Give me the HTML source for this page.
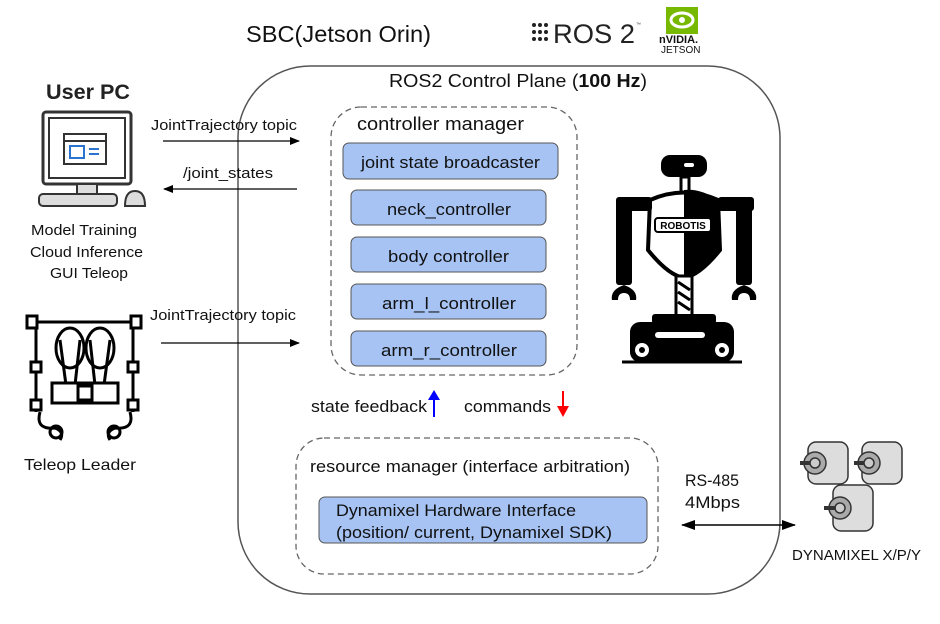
<!DOCTYPE html>
<html><head><meta charset="utf-8"><style>
html,body{margin:0;padding:0;background:#fff;}
svg{display:block;font-family:"Liberation Sans",sans-serif;}
</style></head><body>
<svg width="940" height="624" viewBox="0 0 940 624" xmlns="http://www.w3.org/2000/svg">
<defs>
<marker id="ah" markerWidth="10" markerHeight="8" refX="9" refY="4" orient="auto" markerUnits="userSpaceOnUse"><path d="M0,0 L10,4 L0,8 Z" fill="#000"/></marker>
<marker id="as" markerWidth="14" markerHeight="10" refX="13" refY="5" orient="auto-start-reverse" markerUnits="userSpaceOnUse"><path d="M0,0 L14,5 L0,10 Z" fill="#000"/></marker>
</defs>
<text x="246" y="42" font-size="23" fill="#111" textLength="185" lengthAdjust="spacingAndGlyphs">SBC(Jetson Orin)</text>
<g fill="#222">
<circle cx="534" cy="25" r="2"/><circle cx="540" cy="25" r="2"/><circle cx="546" cy="25" r="2"/>
<circle cx="534" cy="32" r="2"/><circle cx="540" cy="32" r="2"/><circle cx="546" cy="32" r="2"/>
<circle cx="534" cy="39" r="2"/><circle cx="540" cy="39" r="2"/><circle cx="546" cy="39" r="2"/>
</g>
<text x="553" y="43" font-size="27" fill="#222" textLength="82" lengthAdjust="spacingAndGlyphs">ROS 2</text>
<text x="636" y="26" font-size="5" fill="#444">™</text>
<rect x="666" y="7" width="32" height="27" fill="#76b900"/>
<ellipse cx="682" cy="20" rx="11" ry="7" fill="none" stroke="#fff" stroke-width="3"/>
<circle cx="682" cy="20" r="3" fill="#fff"/>
<text x="659" y="43" font-size="11" font-weight="bold" fill="#111">nVIDIA.</text>
<text x="661" y="53" font-size="10" fill="#111">JETSON</text>

<rect x="238" y="66" width="542" height="528" rx="72" fill="none" stroke="#555" stroke-width="1.5"/>
<text x="389" y="87" font-size="18" fill="#111" textLength="258" lengthAdjust="spacingAndGlyphs">ROS2 Control Plane (<tspan font-weight="bold">100 Hz</tspan>)</text>

<rect x="331" y="107" width="246" height="268" rx="30" fill="none" stroke="#666" stroke-width="1.3" stroke-dasharray="6,4"/>
<text x="357" y="130" font-size="18" fill="#111" textLength="167" lengthAdjust="spacingAndGlyphs">controller manager</text>
<g fill="#a6c3f3" stroke="#555" stroke-width="1">
<rect x="343" y="143" width="215" height="36" rx="6"/>
<rect x="351" y="190" width="195" height="35" rx="6"/>
<rect x="351" y="237" width="195" height="35" rx="6"/>
<rect x="351" y="284" width="195" height="35" rx="6"/>
<rect x="351" y="331" width="195" height="35" rx="6"/>
</g>
<g font-size="17" fill="#111">
<text x="361" y="168" textLength="179" lengthAdjust="spacingAndGlyphs">joint state broadcaster</text>
<text x="387" y="215" textLength="124" lengthAdjust="spacingAndGlyphs">neck_controller</text>
<text x="388" y="262" textLength="121" lengthAdjust="spacingAndGlyphs">body controller</text>
<text x="382" y="309" textLength="134" lengthAdjust="spacingAndGlyphs">arm_l_controller</text>
<text x="381" y="356" textLength="136" lengthAdjust="spacingAndGlyphs">arm_r_controller</text>
</g>

<text x="311" y="412" font-size="17" fill="#111" textLength="116" lengthAdjust="spacingAndGlyphs">state feedback</text>
<line x1="434" y1="417" x2="434" y2="398" stroke="#00f" stroke-width="2"/>
<path d="M428,400 L434,390 L440,400 Z" fill="#00f"/>
<text x="464" y="412" font-size="17" fill="#111" textLength="87" lengthAdjust="spacingAndGlyphs">commands</text>
<line x1="563" y1="391" x2="563" y2="408" stroke="#f00" stroke-width="2"/>
<path d="M557,406 L563,417 L569,406 Z" fill="#f00"/>

<rect x="296" y="438" width="362" height="136" rx="28" fill="none" stroke="#666" stroke-width="1.3" stroke-dasharray="6,4"/>
<text x="310" y="472" font-size="17" fill="#111" textLength="320" lengthAdjust="spacingAndGlyphs">resource manager (interface arbitration)</text>
<rect x="319" y="497" width="328" height="46" rx="6" fill="#a6c3f3" stroke="#555"/>
<text x="336" y="516" font-size="17" fill="#111" textLength="240" lengthAdjust="spacingAndGlyphs">Dynamixel Hardware Interface</text>
<text x="336" y="538" font-size="17" fill="#111" textLength="276" lengthAdjust="spacingAndGlyphs">(position/ current, Dynamixel SDK)</text>

<text x="685" y="486" font-size="17" fill="#111" textLength="54" lengthAdjust="spacingAndGlyphs">RS-485</text>
<text x="685" y="508" font-size="17" fill="#111" textLength="55" lengthAdjust="spacingAndGlyphs">4Mbps</text>
<line x1="682" y1="525" x2="795" y2="525" stroke="#000" stroke-width="1.5" marker-start="url(#as)" marker-end="url(#as)"/>

<text x="151" y="130" font-size="15" fill="#111" textLength="146" lengthAdjust="spacingAndGlyphs">JointTrajectory topic</text>
<line x1="163" y1="141" x2="299" y2="141" stroke="#000" stroke-width="1.2" marker-end="url(#ah)"/>
<text x="183" y="178" font-size="15" fill="#111" textLength="90" lengthAdjust="spacingAndGlyphs">/joint_states</text>
<line x1="297" y1="189" x2="164" y2="189" stroke="#000" stroke-width="1.2" marker-end="url(#ah)"/>
<text x="150" y="320" font-size="15" fill="#111" textLength="146" lengthAdjust="spacingAndGlyphs">JointTrajectory topic</text>
<line x1="161" y1="343" x2="299" y2="343" stroke="#000" stroke-width="1.2" marker-end="url(#ah)"/>

<text x="46" y="99" font-size="21" font-weight="bold" fill="#222" textLength="84" lengthAdjust="spacingAndGlyphs">User  PC</text>
<rect x="43" y="112" width="88" height="72" rx="3" fill="#fff" stroke="#333" stroke-width="3"/>
<rect x="49" y="118" width="76" height="60" fill="#fff" stroke="#333" stroke-width="2"/>
<rect x="64" y="134" width="42" height="30" fill="#fff" stroke="#333" stroke-width="2"/>
<line x1="64" y1="141" x2="106" y2="141" stroke="#333" stroke-width="2"/>
<rect x="70" y="146" width="14" height="12" fill="none" stroke="#2a74d0" stroke-width="2"/>
<line x1="89" y1="149" x2="99" y2="149" stroke="#2a74d0" stroke-width="2"/>
<line x1="89" y1="154" x2="99" y2="154" stroke="#2a74d0" stroke-width="2"/>
<rect x="77" y="184" width="20" height="10" fill="#ddd" stroke="#333" stroke-width="2"/>
<rect x="39" y="194" width="78" height="12" rx="4" fill="#ddd" stroke="#333" stroke-width="2"/>
<path d="M125,206 Q125,191 135,191 Q145,191 145,206 Z" fill="#ddd" stroke="#333" stroke-width="2"/>
<g font-size="15" fill="#111">
<text x="31" y="235" textLength="106" lengthAdjust="spacingAndGlyphs">Model Training</text>
<text x="30" y="257" textLength="113" lengthAdjust="spacingAndGlyphs">Cloud Inference</text>
<text x="50" y="278" textLength="78" lengthAdjust="spacingAndGlyphs">GUI Teleop</text>
</g>

<g stroke="#000" fill="none" stroke-width="3">
<line x1="30" y1="322" x2="138" y2="322"/>
<rect x="27" y="316" width="10" height="12" fill="#fff"/>
<rect x="131" y="316" width="10" height="12" fill="#fff"/>
<line x1="36" y1="328" x2="36" y2="412"/>
<line x1="133" y1="328" x2="133" y2="412"/>
<rect x="31" y="362" width="10" height="10" fill="#fff"/>
<rect x="128" y="362" width="10" height="10" fill="#fff"/>
<rect x="31" y="400" width="10" height="10" fill="#fff"/>
<rect x="128" y="400" width="10" height="10" fill="#fff"/>
<ellipse cx="70" cy="348" rx="14" ry="20"/>
<ellipse cx="100" cy="348" rx="14" ry="20"/>
<path d="M60,340 L66,385 M80,340 L75,385 M90,340 L95,385 M110,340 L104,385"/>
<rect x="52" y="383" width="66" height="20" fill="#fff"/>
<rect x="78" y="386" width="14" height="14" fill="#fff"/>
<path d="M40,412 Q35,430 55,428 Q65,432 60,440 M130,412 Q135,430 115,428 Q105,432 110,440"/>
<circle cx="56" cy="432" r="6"/><circle cx="114" cy="432" r="6"/>
</g>
<text x="24" y="470" font-size="16" fill="#111" textLength="112" lengthAdjust="spacingAndGlyphs">Teleop Leader</text>

<g fill="#000">
<rect x="661" y="155" width="46" height="22" rx="9"/>
<rect x="684" y="163" width="10" height="4" rx="2" fill="#fff"/>
<rect x="681" y="177" width="8" height="15" fill="#fff" stroke="#000" stroke-width="3"/>
<path d="M650,200 Q684,185 718,200 L720,250 Q700,275 684,278 Q668,275 648,250 Z" fill="#fff" stroke="#000" stroke-width="4"/>
<path d="M684,190 Q700,188 718,200 L720,250 Q700,275 684,278 Z"/>
<rect x="655" y="218" width="56" height="14" rx="3" fill="#fff" stroke="#000" stroke-width="2"/>
<text x="683" y="229" font-size="10" font-weight="bold" text-anchor="middle" fill="#000">ROBOTIS</text>
<rect x="616" y="197" width="36" height="14" rx="3"/>
<rect x="718" y="197" width="36" height="14" rx="3"/>
<rect x="616" y="200" width="16" height="85" rx="3"/>
<rect x="736" y="200" width="16" height="85" rx="3"/>
<path d="M612,300 Q610,290 624,285 Q638,290 636,300 L630,300 Q630,293 624,293 Q618,293 618,300 Z"/>
<path d="M732,300 Q730,290 744,285 Q758,290 756,300 L750,300 Q750,293 744,293 Q738,293 738,300 Z"/>
<rect x="676" y="276" width="16" height="40" fill="#fff" stroke="#000" stroke-width="3"/>
<path d="M678,282 L690,290 M678,292 L690,300 M678,302 L690,310" stroke="#000" stroke-width="3"/>
<rect x="652" y="314" width="64" height="10" rx="3"/>
<rect x="630" y="322" width="104" height="40" rx="10"/>
<line x1="622" y1="362" x2="742" y2="362" stroke="#000" stroke-width="3"/>
<circle cx="642" cy="350" r="7" fill="#fff"/><circle cx="642" cy="350" r="3"/>
<circle cx="722" cy="350" r="7" fill="#fff"/><circle cx="722" cy="350" r="3"/>
<rect x="655" y="332" width="50" height="6" rx="3" fill="#fff"/>
</g>

<g stroke="#333" stroke-width="1.5" fill="#ddd">
<rect x="808" y="442" width="40" height="42" rx="8"/>
<circle cx="815" cy="463" r="11" fill="#aaa"/><circle cx="815" cy="463" r="5" fill="#ccc"/><line x1="800" y1="463" x2="810" y2="463" stroke-width="4"/>
<rect x="862" y="442" width="40" height="42" rx="8"/>
<circle cx="869" cy="463" r="11" fill="#aaa"/><circle cx="869" cy="463" r="5" fill="#ccc"/><line x1="854" y1="463" x2="864" y2="463" stroke-width="4"/>
<rect x="833" y="485" width="40" height="46" rx="8"/>
<circle cx="840" cy="508" r="11" fill="#aaa"/><circle cx="840" cy="508" r="5" fill="#ccc"/><line x1="824" y1="508" x2="836" y2="508" stroke-width="4"/>
</g>
<text x="792" y="560" font-size="15" fill="#111" textLength="129" lengthAdjust="spacingAndGlyphs">DYNAMIXEL X/P/Y</text>
</svg>
</body></html>
